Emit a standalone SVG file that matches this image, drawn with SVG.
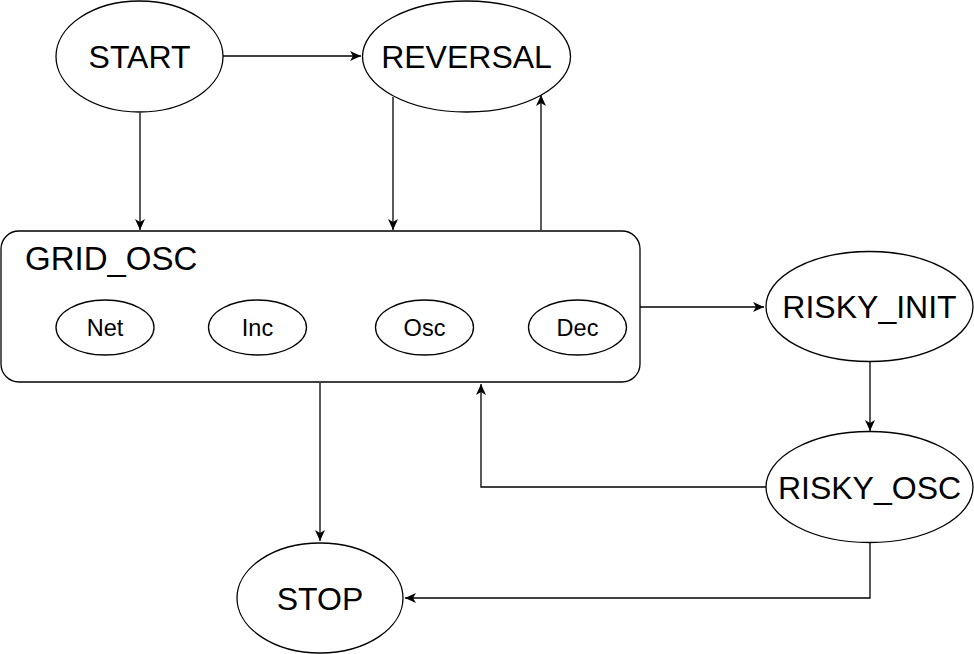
<svg xmlns="http://www.w3.org/2000/svg" width="974" height="654" viewBox="0 0 974 654">
<defs>
<marker id="arr" markerWidth="13" markerHeight="11" refX="11" refY="5" orient="auto" markerUnits="userSpaceOnUse">
<path d="M0,0 L11,5 L0,10 L3,5 Z" fill="#000"/>
</marker>
</defs>
<style>
.n{fill:#fff;stroke:#000;stroke-width:1.3}
.e{fill:none;stroke:#000;stroke-width:1.3;marker-end:url(#arr)}
.t{font-family:"Liberation Sans",Arial,sans-serif;font-size:32px;fill:#000;text-anchor:middle;dominant-baseline:central}
.s{font-family:"Liberation Sans",Arial,sans-serif;font-size:23.5px;fill:#000;text-anchor:middle;dominant-baseline:central}
</style>
<rect width="974" height="654" fill="#fff"/>
<g id="connectors">
<path class="e" d="M223,56 L361,56"/>
<path class="e" d="M140,113 L140,230"/>
<path class="e" d="M393,97 L393,230"/>
<path class="e" d="M541,230 L541,95"/>
<path class="e" d="M640,307 L764,307"/>
<path class="e" d="M870,362 L870,431"/>
<path class="e" d="M766,487 L481,487 L481,384"/>
<path class="e" d="M320,383 L320,541"/>
<path class="e" d="M870,543 L870,598 L405,598"/>
</g>
<g id="start"><ellipse class="n" cx="139.5" cy="56.5" rx="83.5" ry="55.5"/><text class="t" x="139.5" y="57">START</text></g>
<g id="reversal"><ellipse class="n" cx="466.5" cy="56.5" rx="104" ry="55.5"/><text class="t" x="466.5" y="57">REVERSAL</text></g>
<g id="grid_osc">
<rect class="n" x="1" y="231" width="639" height="151" rx="18" ry="18"/>
<text x="25" y="270" style="font-family:'Liberation Sans',Arial,sans-serif;font-size:33px;fill:#000">GRID_OSC</text>
<g id="net"><ellipse class="n" cx="105" cy="327.5" rx="49" ry="27.5"/><text class="s" x="105" y="328">Net</text></g>
<g id="inc"><ellipse class="n" cx="257.5" cy="327.5" rx="49" ry="27.5"/><text class="s" x="257.5" y="328">Inc</text></g>
<g id="osc"><ellipse class="n" cx="424.5" cy="327.5" rx="49" ry="27.5"/><text class="s" x="424.5" y="328">Osc</text></g>
<g id="dec"><ellipse class="n" cx="577.5" cy="327.5" rx="49" ry="27.5"/><text class="s" x="577.5" y="328">Dec</text></g>
</g>
<g id="risky_init"><ellipse class="n" cx="869.5" cy="306.5" rx="103.5" ry="55"/><text class="t" x="869.5" y="307">RISKY_INIT</text></g>
<g id="risky_osc"><ellipse class="n" cx="869.5" cy="487" rx="103.5" ry="55.5"/><text class="t" x="869.5" y="487.5">RISKY_OSC</text></g>
<g id="stop"><ellipse class="n" cx="320" cy="598" rx="83" ry="55"/><text class="t" x="320" y="598.5">STOP</text></g>
</svg>
